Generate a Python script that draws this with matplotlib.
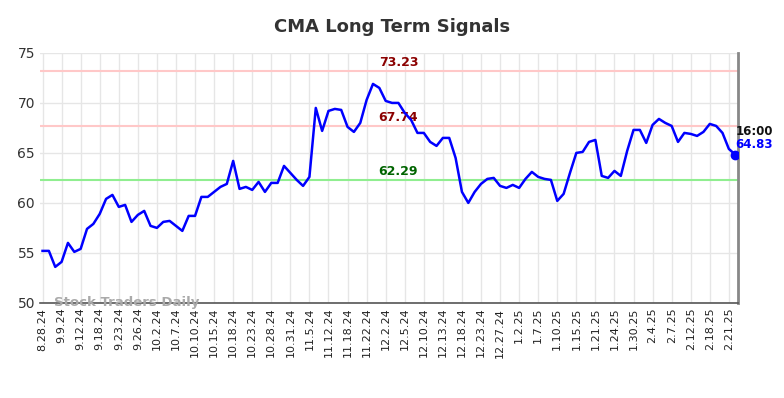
"""CMA long term signals chart."""

import matplotlib

matplotlib.use("Agg")
import matplotlib.pyplot as plt
import numpy as np

# Tick labels, one every third point.
tick_labels = [
    "8.28.24", "9.9.24", "9.12.24", "9.18.24", "9.23.24", "9.26.24", "10.2.24",
    "10.7.24", "10.10.24", "10.15.24", "10.18.24", "10.23.24", "10.28.24",
    "10.31.24", "11.5.24", "11.12.24", "11.18.24", "11.22.24", "12.2.24",
    "12.5.24", "12.10.24", "12.13.24", "12.18.24", "12.23.24", "12.27.24",
    "1.2.25", "1.7.25", "1.10.25", "1.15.25", "1.21.25", "1.24.25", "1.30.25",
    "2.4.25", "2.7.25", "2.12.25", "2.18.25", "2.21.25",
]

prices = [
    55.2, 55.2, 53.6, 54.1, 56.0, 55.1, 55.4, 57.4, 57.9, 58.9,
    60.4, 60.8, 59.6, 59.8, 58.1, 58.8, 59.2, 57.7, 57.5, 58.1,
    58.2, 57.7, 57.2, 58.7, 58.7, 60.6, 60.6, 61.1, 61.6, 61.9,
    64.2, 61.4, 61.6, 61.3, 62.1, 61.1, 62.0, 62.0, 63.7, 63.0,
    62.3, 61.7, 62.6, 69.5, 67.2, 69.2, 69.4, 69.3, 67.6, 67.1,
    68.0, 70.3, 71.9, 71.5, 70.2, 70.0, 70.0, 69.0, 68.3, 67.0,
    67.0, 66.1, 65.7, 66.5, 66.5, 64.5, 61.1, 60.0, 61.1, 61.9,
    62.4, 62.5, 61.7, 61.5, 61.8, 61.5, 62.4, 63.1, 62.6, 62.4,
    62.3, 60.2, 60.9, 63.0, 65.0, 65.1, 66.1, 66.3, 62.7, 62.5,
    63.2, 62.7, 65.2, 67.3, 67.3, 66.0, 67.8, 68.4, 68.0, 67.7,
    66.1, 67.0, 66.9, 66.7, 67.1, 67.9, 67.7, 67.0, 65.4, 64.83,
]

upper_levels = [73.23, 67.74]
lower_level = 62.29
last_time = "16:00"

x = np.arange(len(prices))

fig = plt.figure(figsize=(7.84, 3.98), dpi=100)
ax = fig.add_axes([0.051, 0.239, 0.890, 0.628])

ax.grid(True, color="#e6e6e6", linewidth=1.0)
ax.set_axisbelow(True)

for lvl in upper_levels:
    ax.axhline(lvl, color="#ffc8c8", linewidth=1.5, zorder=1)
    ax.text(56, lvl + 0.2, f"{lvl:.2f}", color="#8b0000", fontsize=9,
            fontweight="bold", ha="center", va="bottom")
ax.axhline(lower_level, color="#90ee90", linewidth=1.5, zorder=1)
ax.text(56, lower_level + 0.2, f"{lower_level:.2f}", color="#006400",
        fontsize=9, fontweight="bold", ha="center", va="bottom")

ax.plot(x, prices, color="#0000ff", linewidth=1.8, zorder=3)
ax.plot(x[-1], prices[-1], "o", color="#0000ff", markersize=6, zorder=4)
ax.text(x[-1], prices[-1] + 2.3, last_time, color="#111111", fontsize=8.5,
        fontweight="bold", ha="left", va="center")
ax.text(x[-1], prices[-1] + 1.0, f"{prices[-1]:.2f}", color="#0000ff",
        fontsize=8.5, fontweight="bold", ha="left", va="center")

ax.set_xticks(x[::3])
ax.set_xticklabels(tick_labels, rotation=90, fontsize=8)
ax.set_xlim(-0.4, len(prices) - 0.6)
ax.set_ylim(50, 75)
ax.set_yticks([50, 55, 60, 65, 70, 75])
ax.tick_params(axis="y", labelsize=10, length=0, colors="#333333")
ax.tick_params(axis="x", length=0, colors="#222222")

for side in ("left", "top"):
    ax.spines[side].set_visible(False)
ax.spines["bottom"].set_color("#555555")
ax.spines["bottom"].set_linewidth(1.2)
ax.spines["right"].set_color("#888888")
ax.spines["right"].set_linewidth(2)

ax.text(0.02, 0.0, "Stock Traders Daily", transform=ax.transAxes,
        color="#aaaaaa", fontsize=9.5, fontweight="bold", va="center",
        ha="left", zorder=5)

fig.suptitle("CMA Long Term Signals", x=0.5, y=0.955, fontsize=13,
             fontweight="bold", color="#333333")

fig.savefig("out.png", dpi=100)
